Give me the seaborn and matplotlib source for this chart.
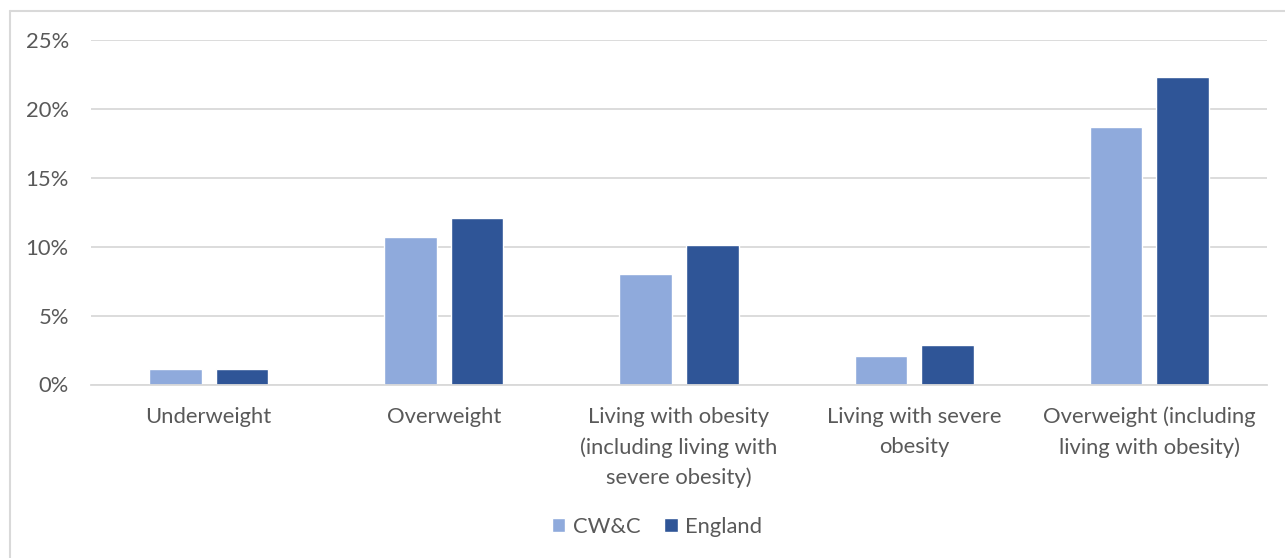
import matplotlib
matplotlib.use("Agg")
import matplotlib.pyplot as plt
from matplotlib.lines import Line2D
from matplotlib.patches import Rectangle
from matplotlib.ticker import FuncFormatter
import seaborn as sns
import pandas as pd

categories = [
    "Underweight",
    "Overweight",
    "Living with obesity\n(including living with\nsevere obesity)",
    "Living with severe\nobesity",
    "Overweight (including\nliving with obesity)",
]
series = ["CW&C", "England"]
cwc_values = [1.1, 10.7, 8.0, 2.1, 18.7]
england_values = [1.1, 12.1, 10.1, 2.9, 22.3]
y_ticks = [0, 5, 10, 15, 20, 25]

df = pd.DataFrame({
    "category": categories * 2,
    "area": [series[0]] * len(categories) + [series[1]] * len(categories),
    "value": cwc_values + england_values,
})

sns.set_theme(style="white")
plt.rcParams["font.family"] = ["Lato", "DejaVu Sans"]
text_color = "#595959"
grid_color = "#D9D9D9"
palette = {"CW&C": "#8FAADC", "England": "#2F5597"}
font_size = 15.8

W, H = 1285, 558
fig = plt.figure(figsize=(W / 100, H / 100), dpi=100)
fig.patch.set_facecolor("white")

# chart frame: top and left edges
fig.lines.append(Line2D([10 / W, 1.0], [1 - 10.5 / H, 1 - 10.5 / H],
                        transform=fig.transFigure, color=grid_color, linewidth=1.5))
fig.lines.append(Line2D([10 / W, 10 / W], [0, 1 - 10.5 / H],
                        transform=fig.transFigure, color=grid_color, linewidth=1.5))

x0, x1 = 91, 1267
y_top, y_zero = 40, 384.5
ax = fig.add_axes([x0 / W, 1 - y_zero / H, (x1 - x0) / W, (y_zero - y_top) / H])

sns.barplot(data=df, x="category", y="value", hue="area", order=categories,
            hue_order=series, palette=palette, width=0.566, gap=0.21,
            saturation=1, ax=ax, legend=False)

ax.set_ylim(0, 25)
ax.set_xlim(-0.5, len(categories) - 0.5)
ax.set_yticks(y_ticks)
ax.yaxis.set_major_formatter(FuncFormatter(lambda v, p: f"{v:.0f}%"))
ax.grid(axis="y", color=grid_color, linewidth=1.3)
ax.set_axisbelow(True)
for s in ["top", "right", "left"]:
    ax.spines[s].set_visible(False)
ax.spines["bottom"].set_color(grid_color)
ax.spines["bottom"].set_linewidth(1.3)
ax.tick_params(axis="both", length=0, colors=text_color, labelsize=font_size)
ax.tick_params(axis="y", pad=16)
ax.tick_params(axis="x", pad=16)
for lbl in ax.get_xticklabels():
    lbl.set_linespacing(1.62)
ax.set_xlabel("")
ax.set_ylabel("")

handles = [Rectangle((0, 0), 1, 1, facecolor=palette[s]) for s in series]
fig.legend(handles, series, loc="center", bbox_to_anchor=(657 / W, 1 - 527 / H),
           ncol=2, frameon=False, fontsize=font_size, labelcolor=text_color,
           handlelength=0.6, handleheight=0.6, handletextpad=0.35,
           columnspacing=1.1)

fig.savefig("out.png", dpi=100, facecolor="white")
